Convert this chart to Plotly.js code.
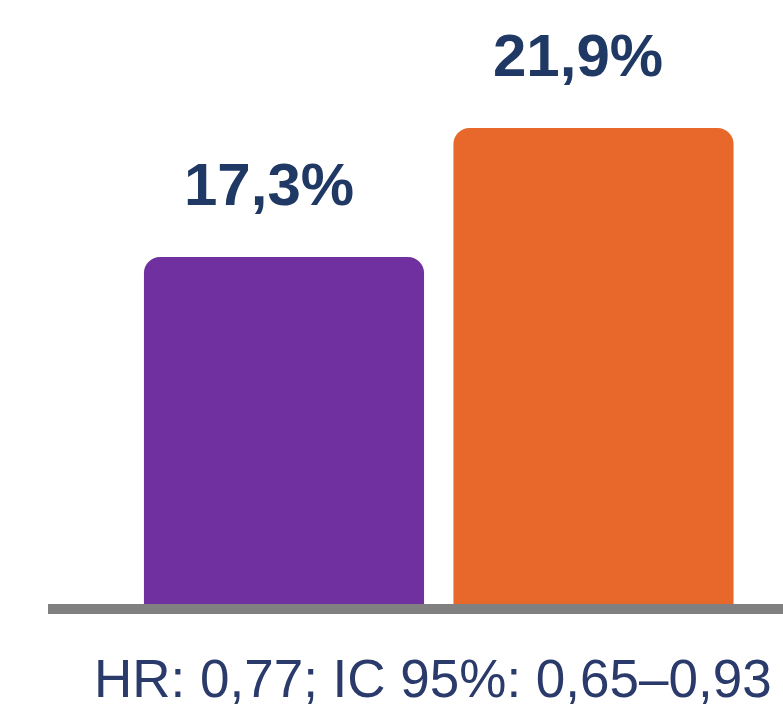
<!DOCTYPE html>
<html>
<head>
<meta charset="utf-8">
<script src="https://cdn.plot.ly/plotly-3.0.1.min.js"></script>
<style>
  html, body { margin: 0; padding: 0; background: #ffffff; }
  #chart { width: 783px; height: 709px; }
</style>
</head>
<body>
<div id="chart"></div>
<script>
// Two-arm event rates with hazard ratio caption
const categories = ['A', 'B'];
const values = [17.3, 21.9];
const valueLabels = ['17,3%', '21,9%'];
const barColors = ['#7030A0', '#E8672A'];
const caption = 'HR: 0,77; IC 95%: 0,65–0,93';

const trace = {
  type: 'bar',
  x: categories,
  y: values,
  marker: { color: barColors, cornerradius: 16, line: { width: 0 } },
  hoverinfo: 'none'
};

const annotations = categories.map((c, i) => ({
  x: c, y: values[i], xref: 'x', yref: 'y',
  text: valueLabels[i],
  showarrow: false,
  xanchor: 'center', yanchor: 'bottom',
  xshift: -15, yshift: 37,
  font: { family: 'Liberation Sans, Arial, sans-serif', size: 60, color: '#1F3864', weight: 700 }
}));

// caption box is anchored at its bottom so it stays inside the page
annotations.push({
  x: 0.5238, y: 0, xref: 'paper', yref: 'paper',
  yanchor: 'bottom', yshift: -105,
  text: caption,
  showarrow: false,
  xanchor: 'center', borderpad: 0,
  font: { family: 'Liberation Sans, Arial, sans-serif', size: 53, color: '#2A3A6A' }
});

const layout = {
  width: 783, height: 709,
  margin: { l: 48, r: 0, t: 0, b: 105 },
  paper_bgcolor: '#ffffff',
  plot_bgcolor: '#ffffff',
  showlegend: false,
  bargap: 0.095,
  xaxis: {
    type: 'category',
    range: [-0.7625, 1.6123],
    showticklabels: false, ticks: '',
    showgrid: false, zeroline: false,
    showline: true, linecolor: '#808080', linewidth: 10
  },
  yaxis: {
    range: [4.926, 26.464],
    showticklabels: false, ticks: '',
    showgrid: false, zeroline: false, showline: false
  },
  annotations: annotations
};

Plotly.newPlot('chart', [trace], layout, { staticPlot: true, displayModeBar: false });
</script>
</body>
</html>
